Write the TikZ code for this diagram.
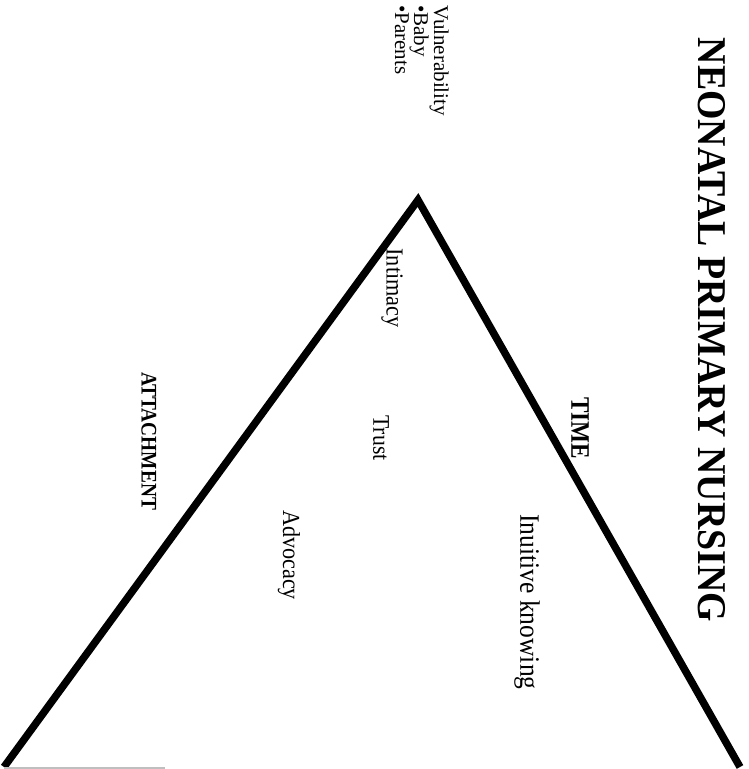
\documentclass[tikz,border=0pt]{standalone}
\usepackage{graphicx}
\usepackage{fontspec}
\setmainfont{Liberation Serif}
\begin{document}
\begin{tikzpicture}[x=1pt,y=-1pt,
  txt/.style={inner sep=0pt, rotate=-90},
  edge/.style={line width=7.5pt, line join=miter}]
\useasboundingbox (0,0) rectangle (748,769);
\coordinate (apex) at (418,200);
\coordinate (bl) at (4,767);
\coordinate (br) at (740,767);
\draw[edge] (bl) -- (apex) -- (br);
\coordinate (g1) at (4,768);
\coordinate (g2) at (165,768);
\draw[gray!50, line width=1.5pt] (g1) -- (g2);
\node[txt] (title) at (712,330) {\scalebox{1}[1.08]{\resizebox{584pt}{!}{\bfseries NEONATAL PRIMARY NURSING}}};
\node[txt] (time) at (580,428) {\scalebox{1}[1.15]{\resizebox{62pt}{!}{\bfseries TIME}}};
\node[txt] (intuit) at (527,602) {\scalebox{1}[1.1]{\resizebox{175pt}{!}{Inuitive knowing}}};
\node[txt, anchor=north west, align=left, font=\fontsize{21}{19}\selectfont] (vul) at (449,5) {Vulnerability\\•Baby\\•Parents};
\node[txt] (intim) at (392,288) {\scalebox{1}[1.1]{\resizebox{79pt}{!}{Intimacy}}};
\node[txt] (trust) at (381,438) {\scalebox{1}[1.1]{\resizebox{45pt}{!}{Trust}}};
\node[txt] (adv) at (289,555) {\scalebox{1}[1.1]{\resizebox{90pt}{!}{Advocacy}}};
\node[txt] (att) at (149,441) {\scalebox{1}[1.15]{\resizebox{138pt}{!}{\bfseries ATTACHMENT}}};
\end{tikzpicture}
\end{document}
